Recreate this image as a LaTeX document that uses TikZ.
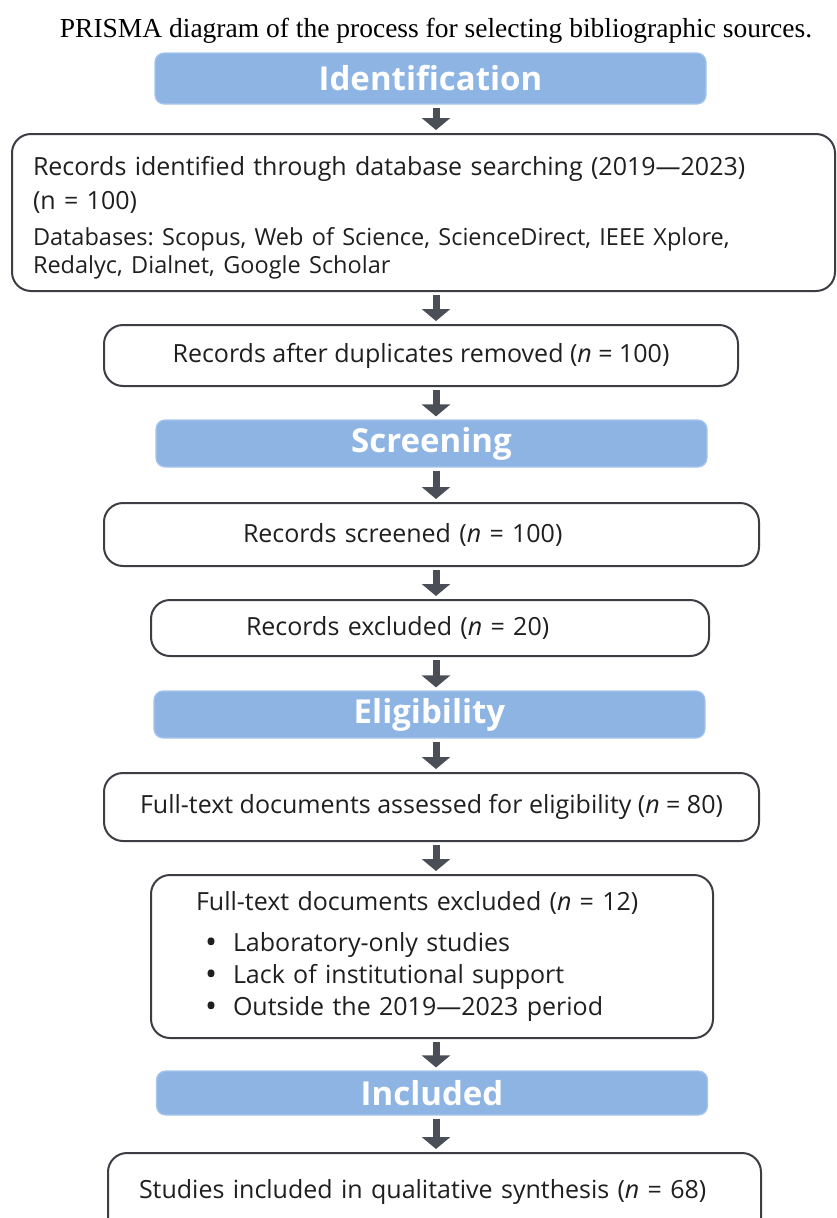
\documentclass[tikz,border=0pt]{standalone}
\usepackage{fontspec}
\setmainfont{Open Sans}
\newfontfamily\phasefont{Open Sans}
\newfontfamily\captionfont{Liberation Serif}
\usetikzlibrary{arrows.meta}
\setlength{\parindent}{0pt}
\frenchspacing
\pgfdeclarelayer{edgelayer}
\pgfdeclarelayer{nodelayer}
\pgfsetlayers{edgelayer,nodelayer,main}
\definecolor{phaseblue}{RGB}{141,180,227}
\definecolor{phaserim}{RGB}{168,198,236}
\definecolor{boxline}{RGB}{60,62,68}
\definecolor{arrowgrey}{RGB}{74,79,87}
\tikzstyle{caption}=[font=\captionfont\fontsize{27.5}{32}\selectfont,inner sep=0pt]
\tikzstyle{phase}=[rectangle,rounded corners=9pt,fill=phaseblue,draw=phaserim,line width=1.2pt,minimum width=551pt,inner sep=0pt,text=white,font=\phasefont\bfseries\fontsize{33}{38}\selectfont]
\tikzstyle{record}=[rectangle,rounded corners=19pt,fill=white,draw=boxline,line width=2pt,inner sep=0pt,text=black!88,font=\fontsize{25}{32}\selectfont]
\tikzstyle{transition}=[-{Triangle[width=28pt,length=12pt]},line width=7pt,draw=arrowgrey,shorten <=3pt,shorten >=3pt]
\newcommand{\dotitem}{\hspace*{9pt}\makebox[28pt][l]{\raisebox{-2pt}{\fontsize{32}{32}\selectfont\textbullet}}}

\begin{document}
\begin{tikzpicture}[x=1pt,y=-1pt]
	\useasboundingbox (0, 0) rectangle (837, 1218);
	\begin{pgfonlayer}{nodelayer}
		\node [style=caption] (t) at (436, 31) {PRISMA diagram of the process for selecting bibliographic sources.};
		\node [style=phase, minimum height=51pt] (0) at (430.5, 78.5) {Identification};
		\node [style=record, minimum width=823pt, minimum height=157pt, text width=781pt, align=left] (1) at (423.5, 212.5) {\rule{0pt}{29pt}Records identified through database searching (2019---2023)\\[2pt](n = 100)\par\vspace{8pt}{\fontsize{23.5}{28}\selectfont Databases: Scopus, Web of Science, ScienceDirect, IEEE Xplore,\\Redalyc, Dialnet, Google Scholar\par}};
		\node [style=record, minimum width=634pt, minimum height=61pt] (2) at (421, 355.5) {Records after duplicates removed (\textit{n} = 100)};
		\node [style=phase, minimum height=47pt] (3) at (431.5, 443.5) {Screening};
		\node [style=record, minimum width=655pt, minimum height=63pt, text width=377pt, align=left] (4) at (431.5, 534.5) {Records screened (\textit{n} = 100)};
		\node [style=record, minimum width=558pt, minimum height=56pt, text width=368pt, align=left] (5) at (430, 628) {Records excluded (\textit{n} = 20)};
		\node [style=phase, minimum height=47pt] (6) at (429.5, 714.5) {Eligibility};
		\node [style=record, minimum width=655pt, minimum height=68pt] (7) at (431.5, 807) {Full-text documents assessed for eligibility (\textit{n} = 80)};
		\node [style=record, minimum width=562pt, minimum height=163pt, text width=472pt, align=left] (8) at (432, 956.5) {Full-text documents excluded (\textit{n} = 12)\par\vspace{9pt}\baselineskip=32pt
			\dotitem Laboratory-only studies\\
			\dotitem Lack of institutional support\\
			\dotitem Outside the 2019---2023 period\par};
		\node [style=phase, minimum height=44pt] (9) at (432, 1093) {Included};
		\node [style=record, minimum width=653pt, minimum height=87pt, text width=591pt, align=left, text depth=16pt] (10) at (434.5, 1196.5) {Studies included in qualitative synthesis (\textit{n} = 68)};
	\end{pgfonlayer}
	\begin{pgfonlayer}{edgelayer}
		\coordinate (c) at (436, 0);
		\draw [style=transition] (0.south -| c) to (1.north -| c);
		\draw [style=transition] (1.south -| c) to (2.north -| c);
		\draw [style=transition] (2.south -| c) to (3.north -| c);
		\draw [style=transition] (3.south -| c) to (4.north -| c);
		\draw [style=transition] (4.south -| c) to (5.north -| c);
		\draw [style=transition] (5.south -| c) to (6.north -| c);
		\draw [style=transition] (6.south -| c) to (7.north -| c);
		\draw [style=transition] (7.south -| c) to (8.north -| c);
		\draw [style=transition] (8.south -| c) to (9.north -| c);
		\draw [style=transition] (9.south -| c) to (10.north -| c);
	\end{pgfonlayer}
\end{tikzpicture}
\end{document}
